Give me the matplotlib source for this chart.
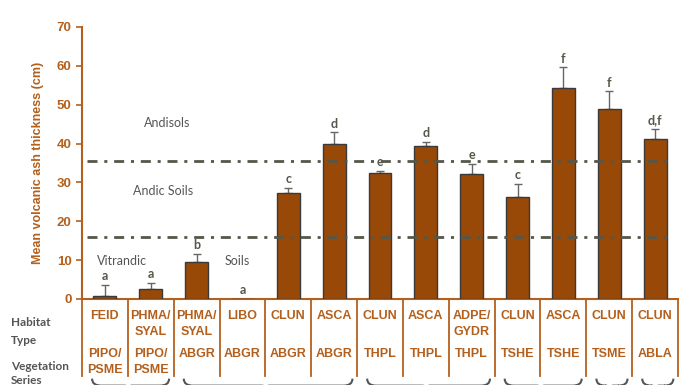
import matplotlib.pyplot as plt
from matplotlib.path import Path
from matplotlib.patches import PathPatch

habitat = ["FEID", "PHMA/\nSYAL", "PHMA/\nSYAL", "LIBO", "CLUN", "ASCA", "CLUN",
           "ASCA", "ADPE/\nGYDR", "CLUN", "ASCA", "CLUN", "CLUN"]
series = ["PIPO/\nPSME", "PIPO/\nPSME", "ABGR", "ABGR", "ABGR", "ABGR", "THPL",
          "THPL", "THPL", "TSHE", "TSHE", "TSME", "ABLA"]
ash = [0.8, 2.5, 9.6, 0.0, 27.2, 39.9, 32.3, 39.5, 32.1, 26.2, 54.3, 49.0, 41.3]
err = [2.8, 1.7, 2.1, 0.0, 1.4, 3.0, 0.6, 0.9, 2.6, 3.4, 5.3, 4.4, 2.4]
letters = ["a", "a", "b", "a", "c", "d", "e", "d", "e", "c", "f", "f", "d,f"]
# groups of the vegetation series (first cell, last cell)
groups = [(0, 1), (2, 5), (6, 8), (9, 10), (11, 11), (12, 12)]
boundaries = [15.9, 35.6]
soils = [("Andisols", 1.85, 45.4), ("Andic Soils", 1.77, 27.7),
         ("Vitrandic", 0.88, 9.8), ("Soils", 3.38, 9.8)]

brown = "#B4601C"
bar_col = "#984807"
grey = "#57564A"

fig = plt.figure(figsize=(6.96, 3.85), dpi=100)
ax = fig.add_axes([0.1178, 0.2234, 0.8563, 0.7065])

x = [i + 0.5 for i in range(len(ash))]
ax.bar(x, ash, width=0.5, color=bar_col, edgecolor="#3a3a3a", linewidth=1, zorder=3)
ax.errorbar(x, ash, yerr=[[0] * len(err), err], fmt="none", ecolor="#666666",
            elinewidth=1, capsize=3, capthick=1, zorder=2)
for xi, a, e, l in zip(x, ash, err, letters):
    ax.text(xi, a + e + 0.7, l, ha="center", va="bottom", fontsize=9,
            fontweight="bold", color=grey, family="Lato")

# dash pattern is scaled by the line width
for b in boundaries:
    ax.plot([0.1, 12.85], [b, b], color=grey, lw=2, dashes=[3.6, 2.45, 1.1, 2.45],
            zorder=4)
for s, sx, sy in soils:
    ax.text(sx, sy, s, ha="center", va="center", fontsize=9, color="#555555",
            family="Lato")

ax.set_xlim(0, 13)
ax.set_ylim(0, 70)
ax.set_yticks(range(0, 71, 10))
ax.set_xticks([])
for sp in ["top", "right"]:
    ax.spines[sp].set_visible(False)
for sp in ["left", "bottom"]:
    ax.spines[sp].set_color(brown)
    ax.spines[sp].set_linewidth(1.5)
ax.tick_params(axis="y", colors=brown, length=4, width=1.2, direction="out")
for t in ax.get_yticklabels():
    t.set_fontweight("bold")
    t.set_fontsize(9.5)
    t.set_family("Liberation Sans")
ax.set_ylabel("Mean volcanic ash thickness (cm)", color=brown, fontsize=9,
              fontweight="bold", family="Liberation Sans", labelpad=9)

# table below the axis
for k in range(len(ash) + 1):
    ax.plot([k, k], [0, -19.8], color=brown, lw=1.3, clip_on=False)
for xi, h, s in zip(x, habitat, series):
    for j, line in enumerate(h.split("\n")):
        ax.text(xi, -4.4 - 4.1 * j, line, ha="center", va="center", fontsize=9,
                color=brown, family="Liberation Sans", fontweight="bold", clip_on=False)
    for j, line in enumerate(s.split("\n")):
        ax.text(xi, -14.2 - 4.2 * j, line, ha="center", va="center", fontsize=9,
                color=brown, family="Liberation Sans", fontweight="bold", clip_on=False)

fig.text(11 / 696, 1 - 323 / 385, "Habitat", fontsize=8.5, fontweight="bold",
         color="#555555", family="Lato", va="center")
fig.text(11 / 696, 1 - 341 / 385, "Type", fontsize=8.5, fontweight="bold",
         color="#555555", family="Lato", va="center")
fig.text(11 / 696, 1 - 366 / 385, "Vegetation", fontsize=8.5, fontweight="bold",
         color="#555555", family="Lato", va="center")
fig.text(11 / 696, 1 - 381 / 385, "Series", fontsize=8.5, fontweight="bold",
         color="#555555", family="Lato", va="center")

# braces under the vegetation series groups
for g0, g1 in groups:
    x0, x1 = g0 + 0.22, g1 + 0.9
    m = (x0 + x1) / 2
    top, low = -20.5, -22.3
    verts = [(x0, top), (x0, low), (x0 + 0.2, low), (m - 0.15, low),
             (m, low), (m, low - 1.5),
             (m, low), (m + 0.15, low), (x1 - 0.2, low), (x1, low), (x1, top)]
    codes = [Path.MOVETO, Path.CURVE3, Path.CURVE3, Path.LINETO,
             Path.CURVE3, Path.CURVE3,
             Path.MOVETO, Path.LINETO, Path.LINETO, Path.CURVE3, Path.CURVE3]
    ax.add_patch(PathPatch(Path(verts, codes), fill=False, edgecolor="#555555",
                           lw=1.5, clip_on=False))

fig.savefig("out.png", dpi=100)
